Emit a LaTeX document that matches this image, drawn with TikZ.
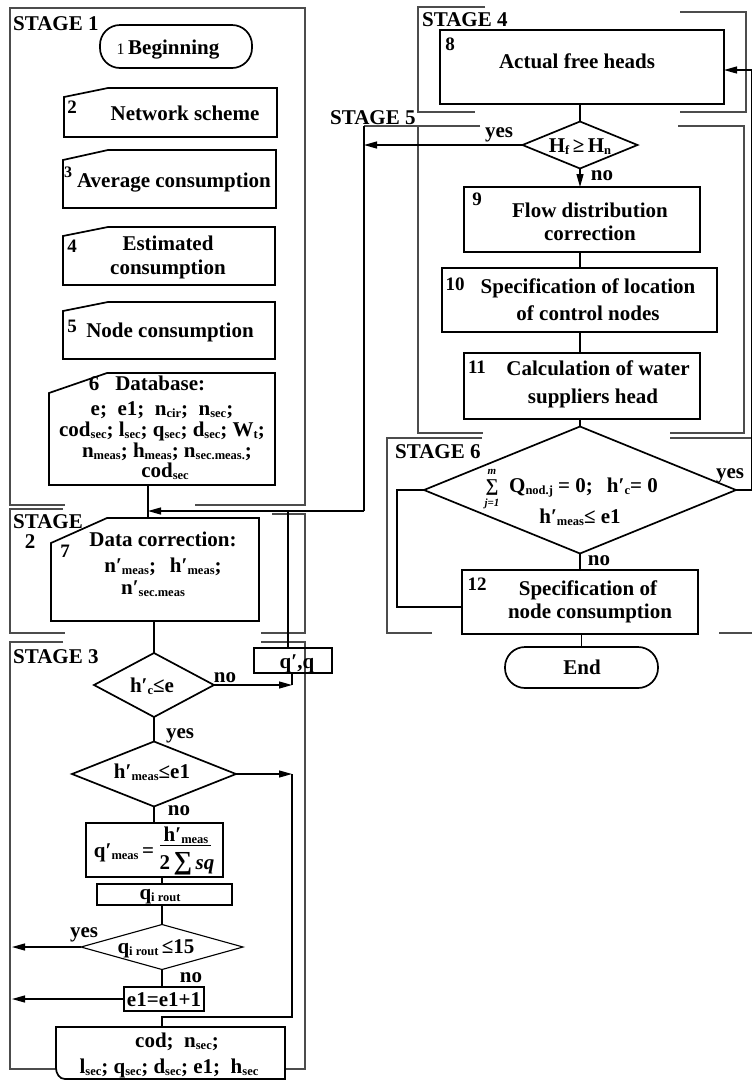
\documentclass[tikz,border=0pt]{standalone}
\usepackage{fontspec}
\setmainfont{Liberation Serif}
\usetikzlibrary{arrows.meta,shapes.geometric,calc}
\newcommand\tfont{\fontsize{21}{24}\selectfont\bfseries}
\newcommand\nfont{\fontsize{19}{19}\selectfont\bfseries}
\newcommand\sbs[1]{\raisebox{-2.5pt}{\fontsize{12.5}{12.5}\selectfont\bfseries #1}}
\newcommand\cutshape[3]{\draw[boxline] (#1.south west) -- ([yshift=-#2]#1.north west) -- ([xshift=#3]#1.north west) -- (#1.north east) -- (#1.south east) -- cycle;}
\tikzset{
  frame/.style={line width=1.3pt, draw=black!70},
  boxline/.style={line width=1.7pt},
  conn/.style={line width=1.2pt},
  arr/.style={-{Triangle[length=13pt,width=7pt]}},
  rbox/.style={draw, boxline, rectangle, inner sep=0pt, outer sep=0pt},
  dia/.style={draw, boxline, diamond, inner sep=0pt, outer sep=0pt},
  hold/.style={rectangle, inner sep=0pt, outer sep=0pt},
  tx/.style={anchor=base, inner sep=0pt, font=\tfont},
  txw/.style={anchor=base west, inner sep=0pt, font=\tfont},
  num/.style={anchor=base, inner sep=0pt, font=\nfont},
  lim/.style={anchor=base, inner sep=0pt, font=\fontsize{11}{11}\selectfont\bfseries\itshape},
}
\begin{document}
\begin{tikzpicture}[x=1pt,y=-1pt]
\useasboundingbox (0,0) rectangle (752,1080);
\fill[white] (0,0) rectangle (752,1080);

% ---------- stage frames ----------
\draw[frame] (65,505) -- (10,505) -- (10,8) -- (305,8) -- (305,505) -- (195,505);
\draw[frame] (63,509) -- (10,509) -- (10,633) -- (65,633);
\draw[frame] (272,514) -- (305,514) -- (305,633) -- (261,633);
\draw[frame] (63,642) -- (10,642) -- (10,1069) -- (56,1069);
\draw[frame] (261,642) -- (305,642) -- (305,1069) -- (285,1069);
\draw[frame] (485,7) -- (418,7) -- (418,112) -- (475,112);
\draw[frame] (680,12) -- (746,12) -- (746,112) -- (680,112);
\draw[frame] (480,126) -- (364,126);
\draw[frame] (418,126) -- (418,433) -- (483,433);
\draw[frame] (678,126) -- (744,126) -- (744,433) -- (670,433);
\draw[frame] (482,438) -- (387,438) -- (387,633) -- (432,633);
\draw[frame] (670,438) -- (752,438);
\draw[frame] (719,633) -- (752,633);

% ---------- left column shapes ----------
\node[rbox, rounded corners=20pt, minimum width=152pt, minimum height=43pt] (b1) at (176,46.5) {};
\node[hold, minimum width=213pt, minimum height=49pt] (b2) at (170.5,112.5) {};
\cutshape{b2}{9pt}{44pt}
\node[hold, minimum width=213pt, minimum height=58pt] (b3) at (169.5,179) {};
\cutshape{b3}{10pt}{45pt}
\node[hold, minimum width=212pt, minimum height=58pt] (b4) at (169,256) {};
\cutshape{b4}{9pt}{45pt}
\node[hold, minimum width=212pt, minimum height=57pt] (b5) at (169,330.5) {};
\cutshape{b5}{9pt}{45pt}
\node[hold, minimum width=226pt, minimum height=112pt] (b6) at (162,429) {};
\cutshape{b6}{20pt}{58pt}
\node[hold, minimum width=208pt, minimum height=103pt] (b7) at (155,569.5) {};
\cutshape{b7}{25pt}{56pt}
\node[rbox, minimum width=78pt, minimum height=25pt] (qq) at (293,660.5) {};
\node[dia, minimum width=120pt, minimum height=64pt] (D3) at (154,685) {};
\node[dia, minimum width=164pt, minimum height=65pt] (D4) at (154,774) {};
\node[rbox, minimum width=137pt, minimum height=54pt] (fb) at (154.5,850) {};
\node[rbox, minimum width=135pt, minimum height=21pt] (qi) at (164.5,894.5) {};
\node[dia, line width=1.1pt, minimum width=162pt, minimum height=45pt] (D5) at (162,947) {};
\node[rbox, minimum width=80pt, minimum height=24pt] (e1) at (164,999) {};
\node[hold, minimum width=229pt, minimum height=52pt] (cod) at (170.5,1053) {};
\draw[boxline] (cod.north west) -- ([yshift=11pt]cod.south west) to[out=-90,in=180] ([xshift=9pt]cod.south west) -- (cod.south east) -- (cod.north east) -- cycle;

% ---------- right column shapes ----------
\node[rbox, minimum width=284pt, minimum height=74pt] (b8) at (582,67) {};
\node[dia, minimum width=115pt, minimum height=47pt] (D1) at (580,145) {};
\node[rbox, minimum width=236pt, minimum height=65pt] (b9) at (582,219.5) {};
\node[rbox, minimum width=275pt, minimum height=64pt] (b10) at (579.5,300) {};
\node[rbox, minimum width=236pt, minimum height=66pt] (b11) at (582,386) {};
\node[dia, minimum width=312pt, minimum height=127pt] (D2) at (580,490) {};
\node[rbox, minimum width=236pt, minimum height=64pt] (b12) at (580,602) {};
\node[rbox, rounded corners=20pt, minimum width=153pt, minimum height=41pt] (bend) at (581.5,667.5) {};

% ---------- coordinates ----------
\coordinate (c67) at (148,511);
\coordinate (j364) at (364,511);
\coordinate (t364) at (364,126);
\coordinate (jq) at (288,511);
\coordinate (k3) at (292,685);
\coordinate (k4) at (292,774);
\coordinate (k5) at (292,1017);
\coordinate (k6) at (162,1027);
\coordinate (l5) at (12,947);
\coordinate (m6) at (397,607);
\coordinate (r6) at (752,70);

% ---------- connectors ----------
\draw[conn] (b6.south -| c67) -- (b7.north -| c67);
\draw[conn] (t364) -- (j364);
\draw[conn,arr] (j364) -- (c67);
\draw[conn,arr] (D1.west) -- (D1.west -| t364);
\draw[conn] (jq) -- (jq |- qq.north);
\draw[conn] (b7.south -| D3.north) -- (D3.north);
\draw[conn,arr] (D3.east) -- (k3);
\draw[conn] (k3) -- (k3 |- qq.south);
\draw[conn] (D3.south) -- (D4.north);
\draw[conn,arr] (D4.east) -- (k4);
\draw[conn] (k4) -- (k5) -| (k6);
\draw[conn] (D4.south) -- (D4.south |- fb.north);
\draw[conn] (fb.south -| D5.north) -- (qi.north -| D5.north);
\draw[conn] (qi.south -| D5.north) -- (D5.north);
\draw[conn] (D5.south) -- (D5.south |- e1.north);
\draw[conn,arr] (D5.west) -- (D5.west -| l5);
\draw[conn,arr] (e1.west) -- (e1.west -| l5);

\draw[conn] (b8.south -| D1.north) -- (D1.north);
\draw[conn,arr] (D1.south) -- (D1.south |- b9.north);
\draw[conn] (b9.south -| D1.north) -- (b10.north -| D1.north);
\draw[conn] (b10.south -| D1.north) -- (b11.north -| D1.north);
\draw[conn] (b11.south -| D2.north) -- (D2.north);
\draw[conn] (D2.south) -- (b12.north);
\draw[conn] (b12.south -| bend.north) -- (bend.north);
\draw[conn] (b12.west |- m6) -- (m6) |- (D2.west);
\draw[conn,arr] (D2.east) -- (D2.east -| r6) -- (r6) -- (r6 -| b8.east);

% ---------- texts: stage 1 ----------
\node[txw] (s1) at (13,30) {STAGE 1};
\node[tx] (t1) at (168,54) {{\fontsize{16}{16}\selectfont\mdseries 1}\,Beginning};
\node[num] (n2) at (72,113) {2};
\node[tx] (t2) at (185,120) {Network scheme};
\node[num, font=\fontsize{16}{16}\selectfont\bfseries] (n3) at (68,177) {3};
\node[tx] (t3) at (174,187) {Average consumption};
\node[num] (n4) at (72,252) {4};
\node[tx] (t4a) at (168,250) {Estimated};
\node[tx] (t4b) at (168,274) {consumption};
\node[num] (n5) at (72,332) {5};
\node[tx] (t5) at (170,337) {Node consumption};
\node[tx] (t6a) at (147,390) {6\hspace{16pt}Database:};
\node[tx] (t6b) at (162,415) {e;\ \ e1;\ \ n\sbs{cir};\ \ n\sbs{sec};};
\node[tx] (t6c) at (162,436) {cod\sbs{sec}; l\sbs{sec}; q\sbs{sec}; d\sbs{sec}; W\sbs{t};};
\node[tx] (t6d) at (167,457) {n\sbs{meas}; h\sbs{meas}; n\sbs{sec.meas.};};
\node[tx] (t6e) at (165,477) {cod\sbs{sec}};

% ---------- texts: stage 2 ----------
\node[txw] (s2a) at (13,528) {STAGE};
\node[tx] (s2b) at (30,548) {2};
\node[num] (n7) at (65,557) {7};
\node[tx] (t7a) at (163,546) {Data correction:};
\node[tx] (t7b) at (163,572) {n′\sbs{meas};\hspace{14pt}h′\sbs{meas};};
\node[tx] (t7c) at (153,594) {n′\sbs{sec.meas}};

% ---------- texts: stage 3 ----------
\node[txw] (s3) at (13,663) {STAGE 3};
\node[tx] (tqq) at (297,668) {q′,q};
\node[tx] (td3) at (152,692) {h′\sbs{c}≤e};
\node[tx] (lno3) at (225,682) {no};
\node[tx] (lyes3) at (180,738) {yes};
\node[tx] (td4) at (152,778) {h′\sbs{meas}≤e1};
\node[tx] (lno4) at (179,815) {no};
\node[tx] (fq) at (124,857) {q′\sbs{meas}\,=};
\node[tx] (fnum) at (186,841) {h′\sbs{meas}};
\draw[line width=1pt] (160,845) -- (211,845);
\node[tx] (fden) at (187,869) {2\,{\fontsize{26}{26}\selectfont ∑}\,\textit{sq}};
\node[tx] (tqi) at (160,899) {q\sbs{i rout}};
\node[tx] (lyes5) at (84,937) {yes};
\node[tx] (td5) at (156,953) {q\sbs{i rout}\,≤15};
\node[tx] (lno5) at (191,982) {no};
\node[tx] (te1) at (164,1006) {e1=e1+1};
\node[tx] (tc1) at (177,1047) {cod;\ \ n\sbs{sec};};
\node[tx] (tc2) at (169,1073) {l\sbs{sec}; q\sbs{sec}; d\sbs{sec}; e1;\ \ h\sbs{sec}};

% ---------- texts: right column ----------
\node[txw] (s4) at (422,26) {STAGE 4};
\node[num] (n8) at (450,50) {8};
\node[tx] (t8) at (577,68) {Actual free heads};
\node[txw] (s5) at (330,124) {STAGE 5};
\node[tx] (lyes1) at (499,137) {yes};
\node[tx] (td1) at (580,152) {H\sbs{f}\,≥\,H\sbs{n}};
\node[tx] (lno1) at (602,180) {no};
\node[num] (n9) at (477,205) {9};
\node[tx] (t9a) at (590,217) {Flow distribution};
\node[tx] (t9b) at (590,240) {correction};
\node[num] (n10) at (455,290) {10};
\node[tx] (t10a) at (588,293) {Specification of location};
\node[tx] (t10b) at (588,320) {of control nodes};
\node[num] (n11) at (477,373) {11};
\node[tx] (t11a) at (598,375) {Calculation of water};
\node[tx] (t11b) at (593,403) {suppliers head};
\node[txw] (s6) at (395,458) {STAGE 6};
\node[tx, font=\fontsize{18}{18}\selectfont\bfseries] (sig) at (492,491) {∑};
\node[lim] (sigm) at (492,474) {m};
\node[lim] (sigj) at (492,506) {j=1};
\node[txw] (td2a) at (509,492) {Q\sbs{nod.j} = 0;\hspace{14pt}h′\sbs{c}= 0};
\node[tx] (td2b) at (580,523) {h′\sbs{meas}≤ e1};
\node[tx] (lyes2) at (730,478) {yes};
\node[tx] (lno2) at (599,565) {no};
\node[num] (n12) at (477,590) {12};
\node[tx] (t12a) at (588,595) {Specification of};
\node[tx] (t12b) at (590,618) {node consumption};
\node[tx] (tend) at (582,674) {End};
\end{tikzpicture}
\end{document}
